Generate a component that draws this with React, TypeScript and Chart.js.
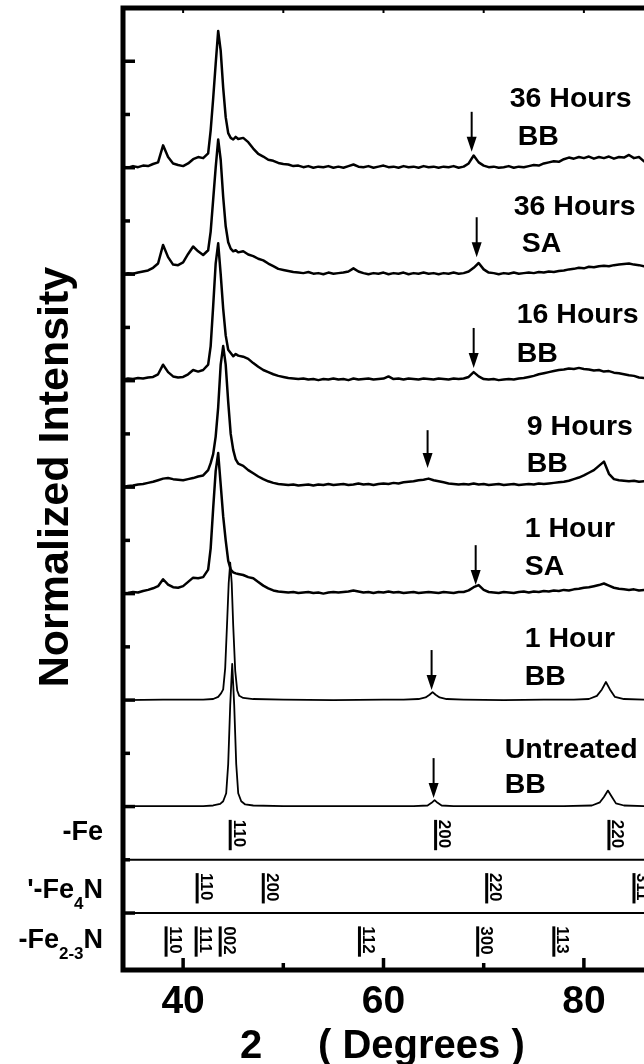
import { useEffect, useRef } from "react";
import { Chart, registerables } from "chart.js";

Chart.register(...registerables);

// ---------- DATA ----------
// shared 2-theta grid of the noisy (treated) patterns
const X_NOISY = [
  34, 34.5, 35, 35.5, 36, 36.5, 37, 37.5, 38, 38.5,
  39, 39.5, 40, 40.5, 41, 41.5, 42, 42.5, 42.75, 43,
  43.25, 43.5, 43.75, 44, 44.25, 44.5, 44.75, 45, 45.25, 45.5,
  46, 46.5, 47, 47.5, 48, 48.5, 49, 49.5, 50, 50.5,
  51, 51.5, 52, 52.5, 53, 53.5, 54, 54.5, 55, 55.5,
  56, 56.5, 57, 57.5, 58, 58.5, 59, 59.5, 60, 60.5,
  61, 61.5, 62, 62.5, 63, 63.5, 64, 64.5, 65, 65.5,
  66, 66.5, 67, 67.5, 68, 68.5, 69, 69.5, 70, 70.5,
  71, 71.5, 72, 72.5, 73, 73.5, 74, 74.5, 75, 75.5,
  76, 76.5, 77, 77.5, 78, 78.5, 79, 79.5, 80, 80.5,
  81, 81.5, 82, 82.5, 83, 83.5, 84, 84.5, 85, 85.5, 86,
];

const Y_36H_BB = [
  0.02, 0.0, 0.03, 0.01, 0.04, 0.03, 0.07, 0.1, 0.42, 0.2,
  0.08, 0.05, 0.03, 0.08, 0.16, 0.2, 0.18, 0.27, 0.7, 1.3,
  1.95, 2.57, 2.2, 1.5, 0.95, 0.65, 0.56, 0.53, 0.58, 0.54,
  0.56, 0.48, 0.36, 0.26, 0.21, 0.15, 0.13, 0.09, 0.07, 0.06,
  0.03, 0.04, 0.01, 0.03, 0.0, 0.02, 0.01, 0.03, 0.0, 0.02,
  0.0, 0.03, 0.06, 0.02, 0.01, 0.03, 0.0, 0.02, 0.04, 0.01,
  0.02, 0.0, 0.03, 0.01, 0.02, 0.0, 0.03, 0.01, 0.02, 0.0,
  0.02, 0.01, 0.03, 0.0, 0.02, 0.08, 0.23, 0.1, 0.04, 0.01,
  0.02, 0.0, 0.01, 0.03, 0.0, 0.02, 0.01, 0.03, 0.05, 0.04,
  0.08, 0.1, 0.12, 0.11, 0.16, 0.19, 0.17, 0.2, 0.18, 0.21,
  0.17, 0.2, 0.18, 0.21, 0.17, 0.2, 0.19, 0.24, 0.18, 0.2, 0.12,
];

const Y_36H_SA = [
  0.0, 0.02, 0.01, 0.03, 0.05, 0.07, 0.12, 0.2, 0.55, 0.32,
  0.18, 0.17, 0.22, 0.38, 0.52, 0.43, 0.36, 0.45, 0.8, 1.4,
  2.0, 2.53, 2.15, 1.45, 0.9, 0.6, 0.48, 0.43, 0.45, 0.41,
  0.43, 0.37, 0.34, 0.29, 0.26, 0.2, 0.15, 0.1, 0.08, 0.06,
  0.04, 0.03, 0.02, 0.04, 0.01, 0.02, 0.0, 0.03, 0.01, 0.02,
  0.03, 0.05, 0.11, 0.05, 0.02, 0.0, 0.02, 0.01, 0.03, 0.0,
  0.02, 0.01, 0.03, 0.0, 0.02, 0.01, 0.03, 0.01, 0.02, 0.0,
  0.02, 0.01, 0.03, 0.01, 0.02, 0.05, 0.12, 0.21, 0.09, 0.03,
  0.02, 0.0, 0.02, 0.01, 0.03, 0.01, 0.02, 0.03, 0.02, 0.04,
  0.03, 0.05, 0.04, 0.06, 0.07, 0.09, 0.1, 0.12, 0.11, 0.14,
  0.13, 0.15, 0.16, 0.15, 0.17, 0.18, 0.19, 0.2, 0.18, 0.17, 0.15,
];

const Y_16H_BB = [
  0.02, 0.04, 0.03, 0.05, 0.04, 0.06, 0.07, 0.12, 0.3, 0.16,
  0.08, 0.06, 0.07, 0.12, 0.2, 0.17, 0.2, 0.3, 0.65, 1.4,
  2.2, 2.58, 2.0, 1.35, 0.85, 0.58, 0.52, 0.46, 0.5, 0.47,
  0.45, 0.41, 0.33, 0.26, 0.2, 0.16, 0.12, 0.09, 0.07, 0.05,
  0.04, 0.03, 0.04, 0.02, 0.03, 0.01, 0.03, 0.02, 0.04, 0.02,
  0.03, 0.01, 0.04, 0.02, 0.03, 0.04, 0.02, 0.03, 0.04, 0.08,
  0.03, 0.04, 0.02, 0.04, 0.03, 0.02, 0.04, 0.03, 0.02, 0.04,
  0.03, 0.02, 0.04, 0.03, 0.04, 0.07, 0.16, 0.08, 0.03, 0.02,
  0.03, 0.01, 0.02, 0.03, 0.02, 0.04, 0.05, 0.07, 0.09, 0.12,
  0.14, 0.16, 0.18, 0.2, 0.21, 0.23, 0.22, 0.24, 0.22, 0.21,
  0.19, 0.2, 0.17, 0.18, 0.15, 0.14, 0.12, 0.1, 0.09, 0.06, 0.05,
];

const Y_9H_BB = [
  0.0, 0.02, 0.03, 0.05, 0.06, 0.08, 0.1, 0.13, 0.16, 0.17,
  0.15, 0.14, 0.13, 0.15, 0.17, 0.2, 0.22, 0.32, 0.45, 0.62,
  0.95, 1.5, 2.3, 2.65, 2.3, 1.6, 1.0, 0.7, 0.52, 0.44,
  0.4, 0.32, 0.26, 0.2, 0.15, 0.11, 0.08, 0.06, 0.05, 0.04,
  0.05, 0.03, 0.04, 0.05, 0.03, 0.05, 0.04, 0.06, 0.04, 0.05,
  0.06, 0.04, 0.05, 0.07, 0.05, 0.06, 0.04, 0.06, 0.07, 0.06,
  0.08, 0.07, 0.09, 0.1, 0.11, 0.13, 0.14, 0.16, 0.13, 0.11,
  0.09, 0.07, 0.06, 0.05, 0.06, 0.05, 0.07, 0.05, 0.06, 0.04,
  0.05, 0.06, 0.04, 0.05, 0.06, 0.04, 0.05, 0.06, 0.05, 0.07,
  0.06, 0.07, 0.08, 0.09, 0.1, 0.12, 0.15, 0.18, 0.22, 0.27,
  0.32, 0.4, 0.48, 0.25, 0.15, 0.13, 0.12, 0.11, 0.12, 0.1, 0.11,
];

const Y_1H_SA = [
  0.0, 0.01, 0.03, 0.02, 0.05, 0.07, 0.1, 0.14, 0.27, 0.17,
  0.12, 0.11, 0.14, 0.22, 0.3, 0.29, 0.31, 0.45, 0.85, 1.6,
  2.3, 2.64, 2.05, 1.45, 1.0, 0.62, 0.45, 0.4, 0.38, 0.37,
  0.35, 0.31, 0.29, 0.22, 0.15, 0.1, 0.06, 0.04, 0.03, 0.02,
  0.03, 0.01, 0.02, 0.03, 0.01, 0.02, 0.0, 0.02, 0.03, 0.02,
  0.03, 0.04, 0.06, 0.04, 0.02, 0.03, 0.01, 0.03, 0.02, 0.04,
  0.02, 0.03, 0.01, 0.02, 0.03, 0.01, 0.02, 0.03, 0.02, 0.01,
  0.03, 0.02, 0.01, 0.03, 0.03, 0.06, 0.12, 0.16, 0.07, 0.03,
  0.02, 0.01, 0.03, 0.02, 0.01, 0.03, 0.04, 0.02, 0.04, 0.03,
  0.05, 0.04, 0.06, 0.05, 0.07, 0.06, 0.08, 0.09, 0.11, 0.12,
  0.14, 0.16, 0.19, 0.15, 0.11, 0.09, 0.08, 0.07, 0.08, 0.06, 0.07,
];

const X_1H_BB = [
  34, 38, 42, 43, 43.5, 43.8, 44.0, 44.2, 44.4, 44.55, 44.7, 44.85, 45.0, 45.2,
  45.4, 45.6, 46, 47, 50, 55, 60, 62, 63.5, 64.2, 64.6, 64.9, 65.2, 65.6, 66.3,
  68, 72, 76, 79, 80.5, 81.3, 81.8, 82.2, 82.6, 83.1, 84, 86,
];
const Y_1H_BB = [
  0.0, 0.01, 0.01, 0.02, 0.06, 0.13, 0.2, 0.6, 1.5, 2.2, 2.58, 2.2, 1.4, 0.55,
  0.18, 0.08, 0.04, 0.02, 0.01, 0.0, 0.01, 0.01, 0.02, 0.05, 0.1, 0.15, 0.1, 0.05, 0.02,
  0.01, 0.0, 0.01, 0.01, 0.02, 0.08, 0.2, 0.34, 0.2, 0.06, 0.02, 0.01,
];

const X_UNTREATED = [
  34, 38, 42, 43, 43.7, 44.0, 44.3, 44.5, 44.7, 44.9, 45.1, 45.3, 45.5, 45.8,
  46.2, 47, 50, 55, 60, 63, 64.4, 64.8, 65.1, 65.4, 65.8, 67, 72, 78, 80.8, 81.6,
  82.0, 82.4, 82.8, 83.2, 84, 86,
];
const Y_UNTREATED = [
  0.01, 0.01, 0.01, 0.02, 0.05, 0.1, 0.25, 0.8, 1.9, 2.68, 1.9, 0.8, 0.25, 0.1,
  0.04, 0.02, 0.01, 0.01, 0.01, 0.01, 0.02, 0.07, 0.12, 0.07, 0.02, 0.01, 0.01, 0.01, 0.02, 0.08,
  0.18, 0.3, 0.18, 0.06, 0.02, 0.01,
];

// vertical stacking offsets (one tick = one unit)
const OFFSET_36H_BB = 12;
const OFFSET_36H_SA = 10;
const OFFSET_16H_BB = 8;
const OFFSET_9H_BB = 6;
const OFFSET_1H_SA = 4;
const OFFSET_1H_BB = 2;
const OFFSET_UNTREATED = 0;

// sample labels
const LABEL_LINE1 = ["36 Hours", "36 Hours", "16 Hours", "9 Hours", "1 Hour", "1 Hour", "Untreated"];
const LABEL_LINE2 = [" BB", " SA", "BB", "BB", "SA", "BB", "BB"];
const LABEL_X = [72.6, 73.0, 73.3, 74.3, 74.1, 74.1, 72.1];
const LABEL_Y1 = [13.14, 11.11, 9.08, 6.98, 5.06, 3.0, 0.91];
const LABEL_Y2 = [12.43, 10.42, 8.35, 6.28, 4.35, 2.28, 0.26];

// arrows marking reflections
const ARROW_X = [68.8, 69.3, 69.0, 64.4, 69.2, 64.8, 65.0];
const ARROW_TOP = [13.05, 11.07, 8.99, 7.07, 4.91, 2.94, 0.91];
const ARROW_TIP = [12.3, 10.32, 8.24, 6.36, 4.16, 2.19, 0.16];

// reference phase stick patterns
const ALPHA_FE_POS = [44.7, 65.2, 82.5];
const ALPHA_FE_HKL = ["110", "200", "220"];
const GAMMA_FE4N_POS = [41.4, 48.0, 70.3, 85.0];
const GAMMA_FE4N_HKL = ["110", "200", "220", "311"];
const EPS_FE23N_POS = [38.3, 41.3, 43.7, 57.6, 69.4, 77.0];
const EPS_FE23N_HKL = ["110", "111", "002", "112", "300", "113"];

// axes
const X_MIN = 34;
const X_MAX = 86;
const Y_MIN = -3.07;
const Y_MAX = 15;
const X_MAJOR_TICKS = [40, 60, 80];
const X_MINOR_TICKS = [50, 70];
const X_TICK_LABELS = ["40", "60", "80"];
const Y_TICKS = [-2, -1, 0, 1, 2, 3, 4, 5, 6, 7, 8, 9, 10, 11, 12, 13, 14];

const FONT = "'Liberation Sans', Arial, Helvetica, sans-serif";

const decorPlugin = {
  id: "xrdDecor",
  afterDatasetsDraw(chart: any) {
    const { ctx, chartArea: ca, scales } = chart;
    const X = (v: number) => scales.x.getPixelForValue(v);
    const Y = (v: number) => scales.y.getPixelForValue(v);
    ctx.save();
    ctx.fillStyle = "#000";
    ctx.strokeStyle = "#000";
    ctx.lineCap = "butt";

    // panel separators
    ctx.lineWidth = 2;
    [-1, -2].forEach((v) => {
      ctx.beginPath();
      ctx.moveTo(ca.left, Y(v));
      ctx.lineTo(ca.right, Y(v));
      ctx.stroke();
    });

    // frame
    ctx.lineWidth = 5;
    ctx.beginPath();
    ctx.moveTo(ca.left, ca.top - 2.5);
    ctx.lineTo(ca.left, ca.bottom + 2.5);
    ctx.moveTo(ca.left - 2.5, ca.top);
    ctx.lineTo(ca.right, ca.top);
    ctx.moveTo(ca.left - 2.5, ca.bottom);
    ctx.lineTo(ca.right, ca.bottom);
    ctx.stroke();

    // y ticks (inward)
    ctx.lineWidth = 3.5;
    Y_TICKS.forEach((v) => {
      const len = v % 2 === 0 ? 12 : 7;
      ctx.beginPath();
      ctx.moveTo(ca.left, Y(v));
      ctx.lineTo(ca.left + len, Y(v));
      ctx.stroke();
    });
    // x ticks
    X_MAJOR_TICKS.forEach((v) => {
      ctx.beginPath();
      ctx.moveTo(X(v), ca.bottom);
      ctx.lineTo(X(v), ca.bottom - 12);
      ctx.stroke();
    });
    X_MINOR_TICKS.forEach((v) => {
      ctx.beginPath();
      ctx.moveTo(X(v), ca.bottom);
      ctx.lineTo(X(v), ca.bottom - 7);
      ctx.stroke();
    });
    ctx.lineWidth = 2;
    [...X_MAJOR_TICKS, ...X_MINOR_TICKS].forEach((v) => {
      ctx.beginPath();
      ctx.moveTo(X(v), ca.top);
      ctx.lineTo(X(v), ca.top + 5);
      ctx.stroke();
    });

    // x tick labels
    ctx.font = `bold 39px ${FONT}`;
    ctx.textAlign = "center";
    ctx.textBaseline = "alphabetic";
    X_MAJOR_TICKS.forEach((v, i) => {
      ctx.fillText(X_TICK_LABELS[i], X(v), 1013);
    });

    // x title
    ctx.font = `bold 40px ${FONT}`;
    ctx.textAlign = "left";
    ctx.fillText("2", 240, 1058);
    ctx.fillText("( Degrees )", 318, 1058);

    // y title
    ctx.save();
    ctx.translate(68, 477);
    ctx.rotate(-Math.PI / 2);
    ctx.font = `bold 43px ${FONT}`;
    ctx.textAlign = "center";
    ctx.fillText("Normalized Intensity", 0, 0);
    ctx.restore();

    // sample labels
    ctx.font = `bold 28.5px ${FONT}`;
    ctx.textAlign = "left";
    LABEL_LINE1.forEach((t, i) => {
      ctx.fillText(t, X(LABEL_X[i]), Y(LABEL_Y1[i]));
      ctx.fillText(LABEL_LINE2[i], X(LABEL_X[i]), Y(LABEL_Y2[i]));
    });

    // arrows
    ARROW_X.forEach((ax, i) => {
      const x = X(ax);
      const top = Y(ARROW_TOP[i]);
      const tip = Y(ARROW_TIP[i]);
      ctx.lineWidth = 2;
      ctx.beginPath();
      ctx.moveTo(x, top);
      ctx.lineTo(x, tip - 12);
      ctx.stroke();
      ctx.beginPath();
      ctx.moveTo(x - 5, tip - 15);
      ctx.lineTo(x + 5, tip - 15);
      ctx.lineTo(x, tip);
      ctx.closePath();
      ctx.fill();
    });

    // stick patterns
    const rows = [
      { top: 0, pos: ALPHA_FE_POS, hkl: ALPHA_FE_HKL },
      { top: -1, pos: GAMMA_FE4N_POS, hkl: GAMMA_FE4N_HKL },
      { top: -2, pos: EPS_FE23N_POS, hkl: EPS_FE23N_HKL },
    ];
    rows.forEach((r) => {
      r.pos.forEach((p, i) => {
        const x = X(p);
        const y1 = Y(r.top - 0.25);
        const y2 = Y(r.top - 0.82);
        ctx.lineWidth = 3;
        ctx.beginPath();
        ctx.moveTo(x, y1);
        ctx.lineTo(x, y2);
        ctx.stroke();
        ctx.save();
        ctx.translate(x + 3.5, y1);
        ctx.rotate(Math.PI / 2);
        ctx.font = `bold 17px ${FONT}`;
        ctx.textAlign = "left";
        ctx.textBaseline = "alphabetic";
        ctx.fillText(r.hkl[i], 0, 0);
        ctx.restore();
      });
    });

    // phase names (right-aligned, with subscripts)
    const drawPhase = (parts: { t: string; sub?: boolean }[], right: number, base: number) => {
      const main = `bold 27px ${FONT}`;
      const small = `bold 17px ${FONT}`;
      let width = 0;
      parts.forEach((p) => {
        ctx.font = p.sub ? small : main;
        width += ctx.measureText(p.t).width;
      });
      let x = right - width;
      ctx.textAlign = "left";
      parts.forEach((p) => {
        ctx.font = p.sub ? small : main;
        ctx.fillText(p.t, x, p.sub ? base + 11 : base);
        x += ctx.measureText(p.t).width;
      });
    };
    drawPhase([{ t: "-Fe" }], 103, 840);
    drawPhase([{ t: "'-Fe" }, { t: "4", sub: true }, { t: "N" }], 103, 898);
    drawPhase([{ t: "-Fe" }, { t: "2-3", sub: true }, { t: "N" }], 103, 948);

    ctx.restore();
  },
};

const pts = (xs: number[], ys: number[], off: number) =>
  xs.map((x, i) => ({ x, y: off + ys[i] }));

export default function App() {
  const ref = useRef<HTMLCanvasElement | null>(null);
  useEffect(() => {
    if (!ref.current) return;
    const noisy = {
      borderColor: "#000", borderWidth: 2.5, pointRadius: 0, tension: 0, fill: false,
      borderJoinStyle: "round", borderCapStyle: "round",
    };
    const smooth = {
      borderColor: "#000", borderWidth: 1.8, pointRadius: 0, tension: 0, fill: false,
      borderJoinStyle: "round", borderCapStyle: "round",
    };
    const chart = new Chart(ref.current, {
      type: "line",
      data: {
        datasets: [
          { label: "36 Hours BB", data: pts(X_NOISY, Y_36H_BB, OFFSET_36H_BB), ...noisy },
          { label: "36 Hours SA", data: pts(X_NOISY, Y_36H_SA, OFFSET_36H_SA), ...noisy },
          { label: "16 Hours BB", data: pts(X_NOISY, Y_16H_BB, OFFSET_16H_BB), ...noisy },
          { label: "9 Hours BB", data: pts(X_NOISY, Y_9H_BB, OFFSET_9H_BB), ...noisy },
          { label: "1 Hour SA", data: pts(X_NOISY, Y_1H_SA, OFFSET_1H_SA), ...noisy },
          { label: "1 Hour BB", data: pts(X_1H_BB, Y_1H_BB, OFFSET_1H_BB), ...smooth },
          { label: "Untreated BB", data: pts(X_UNTREATED, Y_UNTREATED, OFFSET_UNTREATED), ...smooth },
        ],
      },
      options: {
        animation: false,
        responsive: false,
        devicePixelRatio: 1,
        events: [],
        layout: { padding: { left: 123, top: 8, right: 0, bottom: 94 } },
        scales: {
          x: { type: "linear", min: X_MIN, max: X_MAX, display: false },
          y: { type: "linear", min: Y_MIN, max: Y_MAX, display: false },
        },
        plugins: { legend: { display: false }, tooltip: { enabled: false } },
      },
      plugins: [decorPlugin],
    } as any);
    return () => chart.destroy();
  }, []);
  return (
    <canvas
      ref={ref}
      width={644}
      height={1064}
      style={{ position: "fixed", left: 0, top: 0, width: 644, height: 1064, background: "#fff" }}
    />
  );
}
